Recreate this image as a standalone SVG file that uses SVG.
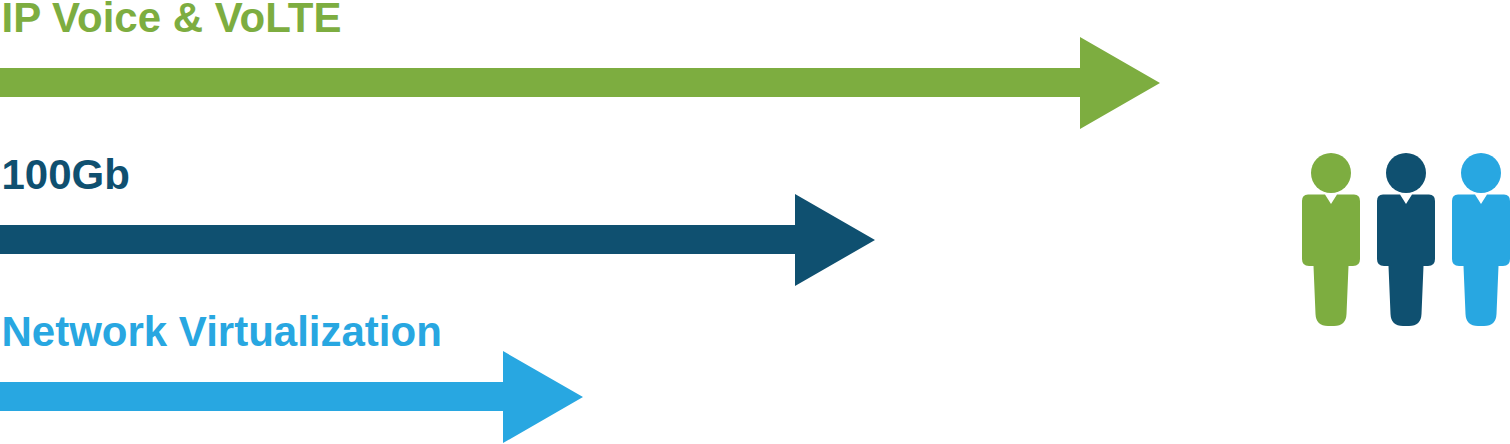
<svg xmlns="http://www.w3.org/2000/svg" width="1510" height="444" viewBox="0 0 1510 444">
<style>
text{font-family:"Liberation Sans",Arial,sans-serif;font-weight:700;font-size:42px}
.g{fill:#7DAD40}.n{fill:#0F5070}.b{fill:#28A7E1}
</style>
<defs>
<g id="person">
<circle cx="0" cy="0" r="20"/>
<path d="M-23 21.500 L-6 21.500 L0 31 L6 21.500 L23 21.500 Q29 21.500 29 28 L29 86 Q29 93 22 93 L17.500 93 L15.500 141 Q15 153 3 153 L-3 153 Q-15 153 -15.500 141 L-17.500 93 L-22 93 Q-29 93 -29 86 L-29 28 Q-29 21.500 -23 21.500 Z"/>
</g>
</defs>
<rect width="1510" height="444" fill="#fff"/>
<g id="connectors">
<polygon class="g" points="0,68 1080,68 1080,37 1160,83 1080,129 1080,97 0,97"/>
<polygon class="n" points="0,225 795,225 795,194 875,240 795,286 795,254 0,254"/>
<polygon class="b" points="0,382 503,382 503,351 583,397 503,443 503,411 0,411"/>
</g>
<g id="label-voice"><text class="g" x="1.500" y="32">IP Voice &amp; VoLTE</text></g>
<g id="label-100gb"><text class="n" x="1.500" y="189">100Gb</text></g>
<g id="label-nv"><text class="b" x="1.500" y="346">Network Virtualization</text></g>
<g id="person-green" class="g"><use href="#person" x="1331" y="173"/></g>
<g id="person-navy" class="n"><use href="#person" x="1406" y="173"/></g>
<g id="person-blue" class="b"><use href="#person" x="1481" y="173"/></g>
</svg>
